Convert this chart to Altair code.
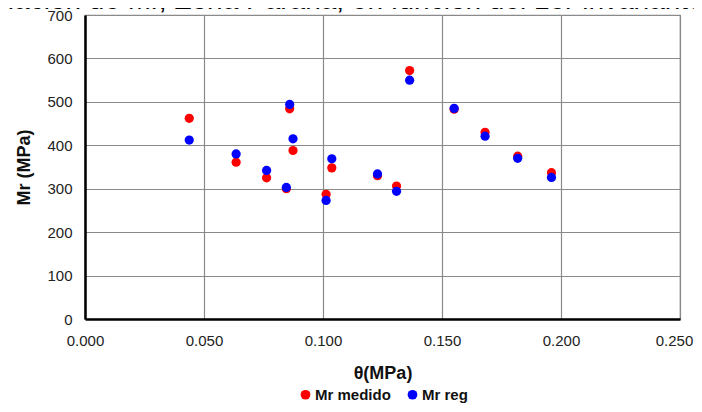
import altair as alt
import pandas as pd

theta = [0.0438, 0.0635, 0.0763, 0.0846, 0.0860, 0.0874, 0.1013, 0.1037,
         0.1229, 0.1309, 0.1364, 0.1551, 0.1681, 0.1818, 0.1960]
mr_medido = [462, 361, 325, 300, 484, 388, 287, 348, 330, 306, 572, 483, 430, 375, 337]
mr_reg = [412, 380, 342, 303, 494, 415, 273, 369, 334, 294, 550, 485, 421, 370, 326]
series = ["Mr medido", "Mr reg"]
colors = ["#FF0000", "#0000FF"]
x_ticks = [0.0, 0.05, 0.10, 0.15, 0.20, 0.25]
y_ticks = [0, 100, 200, 300, 400, 500, 600, 700]
title_text = "Variación de Mr, Zona Parana, en función del 1er invariante"

rows = []
for s, vals in zip(series, [mr_medido, mr_reg]):
    for t, v in zip(theta, vals):
        rows.append({"theta": t, "Mr": v, "serie": s})
df = pd.DataFrame(rows)

FONT = "Liberation Sans"

points = alt.Chart(df).mark_circle(size=85, opacity=1).encode(
    x=alt.X("theta:Q", title="θ(MPa)",
            scale=alt.Scale(domain=[0, 0.25], nice=False, zero=False),
            axis=alt.Axis(values=x_ticks, format=".3f", labelFontSize=15,
                          labelPadding=14, labelFlush=False,
                          labelOffset=alt.expr("datum.value >= 0.25 ? -6 : 0"),
                          titleFontSize=18, titleFontWeight="bold",
                          titlePadding=16, domainColor="black", domainWidth=2.5,
                          ticks=False, gridColor="#8a8a8a", gridWidth=1.2,
                          labelColor="#222", titleColor="#111")),
    y=alt.Y("Mr:Q", title="Mr (MPa)",
            scale=alt.Scale(domain=[0, 700], nice=False),
            axis=alt.Axis(values=y_ticks, labelFontSize=15, labelPadding=13,
                          titleFontSize=18, titleFontWeight="bold", titlePadding=13,
                          domainColor="black", domainWidth=2.5, ticks=False,
                          gridColor="#8a8a8a", gridWidth=1.2,
                          labelColor="#222", titleColor="#111")),
    color=alt.Color("serie:N", scale=alt.Scale(domain=series, range=colors),
                    legend=alt.Legend(title=None, orient="none", direction="horizontal",
                                      legendX=213, legendY=372, symbolType="circle",
                                      symbolSize=95, labelFontSize=15,
                                      labelFontWeight="bold", labelColor="#111",
                                      columnPadding=14, labelOffset=2)),
)

title_df = pd.DataFrame({"t": [title_text]})
title = alt.Chart(title_df).mark_text(
    fontSize=28, font=FONT, align="center", baseline="alphabetic", color="#000"
).encode(text="t:N", x=alt.value(250), y=alt.value(-6))

chart = alt.layer(points, title).properties(
    width=595, height=304,
    autosize=alt.AutoSizeParams(type="none"),
    padding={"left": 77, "top": 7, "right": 14, "bottom": 85},
).configure(font=FONT).configure_view(stroke="#8a8a8a", strokeWidth=1.2)

chart.save("out.html", embed_options={"renderer": "svg", "actions": False})
